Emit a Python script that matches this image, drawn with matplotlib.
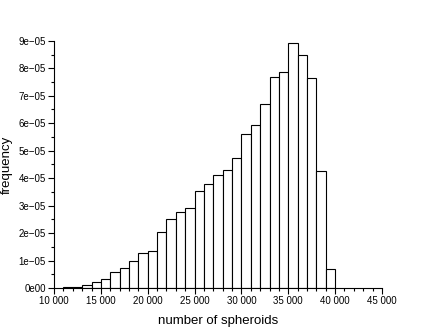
import matplotlib
matplotlib.use("Agg")
import matplotlib.pyplot as plt
from matplotlib.ticker import MultipleLocator, FuncFormatter
import numpy as np

plt.rcParams['font.family'] = ['Liberation Sans', 'DejaVu Sans']

# bin left edges (number of spheroids), width 1000
bin_starts = [11000, 12000, 13000, 14000, 15000, 16000, 17000, 18000, 19000, 20000,
              21000, 22000, 23000, 24000, 25000, 26000, 27000, 28000, 29000, 30000,
              31000, 32000, 33000, 34000, 35000, 36000, 37000, 38000, 39000]
freq = [0.03e-5, 0.05e-5, 0.11e-5, 0.22e-5, 0.32e-5, 0.60e-5, 0.74e-5, 0.97e-5, 1.26e-5, 1.34e-5,
        2.04e-5, 2.52e-5, 2.77e-5, 2.93e-5, 3.54e-5, 3.79e-5, 4.10e-5, 4.28e-5, 4.72e-5, 5.60e-5,
        5.94e-5, 6.70e-5, 7.70e-5, 7.86e-5, 8.93e-5, 8.48e-5, 7.63e-5, 4.27e-5, 0.71e-5]
bin_width = 1000

fig = plt.figure(figsize=(4.36, 3.29), dpi=100)
ax = fig.add_axes([0.124, 0.1246, 0.752, 0.7514])

edges = np.append(np.array(bin_starts), bin_starts[-1] + bin_width)
ax.hist(bin_starts, bins=edges, weights=freq, histtype='bar',
        facecolor='white', edgecolor='black', linewidth=0.8)

ax.set_xlim(10000, 45000)
ax.set_ylim(0, 9e-5)
ax.spines['top'].set_visible(False)
ax.spines['right'].set_visible(False)
ax.spines['left'].set_linewidth(0.8)
ax.spines['bottom'].set_linewidth(0.8)

ax.xaxis.set_major_locator(MultipleLocator(5000))
ax.xaxis.set_minor_locator(MultipleLocator(1000))
ax.yaxis.set_major_locator(MultipleLocator(1e-5))
ax.yaxis.set_minor_locator(MultipleLocator(0.5e-5))

def xfmt(v, pos):
    return f"{int(round(v)):,}".replace(",", " ")

def yfmt(v, pos):
    if abs(v) < 1e-12:
        return "0e00"
    m, e = f"{v:.0e}".split("e")
    return f"{m}e\u2212{abs(int(e)):02d}"

ax.xaxis.set_major_formatter(FuncFormatter(xfmt))
ax.yaxis.set_major_formatter(FuncFormatter(yfmt))
ax.tick_params(which='major', direction='out', length=4, width=0.8, labelsize=7, pad=2)
ax.tick_params(which='minor', direction='out', length=2, width=0.8)

ax.set_xlabel("number of spheroids", fontsize=9.5, labelpad=6)
ax.set_ylabel("frequency", fontsize=9.5, labelpad=4)

fig.savefig("out.png", dpi=100)
